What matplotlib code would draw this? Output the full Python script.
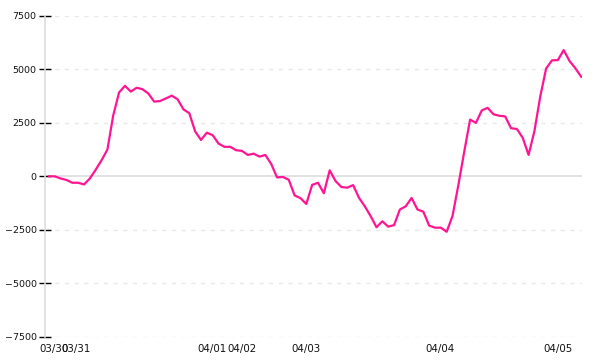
import matplotlib
matplotlib.use("Agg")
import matplotlib.pyplot as plt
import numpy as np

# data values (one per sample, uniform spacing)
values = [
    0, 0, -100, -170, -300, -300, -380, -100, 310, 750,
    1250, 2850, 3920, 4230, 3960, 4140, 4070, 3870, 3490, 3520,
    3640, 3770, 3600, 3130, 2950, 2100, 1700, 2040, 1920, 1530,
    1380, 1380, 1220, 1190, 1000, 1060, 920, 1000, 580, -50,
    -30, -160, -890, -1020, -1290, -400, -300, -790, 280, -220,
    -500, -530, -410, -1000, -1400, -1860, -2380, -2100, -2350, -2280,
    -1550, -1400, -1010, -1550, -1650, -2300, -2400, -2400, -2590, -1850,
    -400, 1150, 2650, 2500, 3080, 3200, 2900, 2830, 2800, 2250,
    2210, 1800, 1000, 2120, 3740, 5040, 5420, 5430, 5900, 5390,
    5050, 4650,
]
tick_labels = ["03/30", "03/31", "04/01", "04/02", "04/03", "04/04", "04/05"]
tick_pos = [0.9, 4.6, 27.8, 33.0, 44.0, 66.9, 87.1]
y_ticks = [-7500, -5000, -2500, 0, 2500, 5000, 7500]

plt.rcParams['font.family'] = ['DejaVu Sans']

fig = plt.figure(figsize=(6, 3.6), dpi=100)
ax = fig.add_axes([0.075, 0.0644, 0.895, 0.8916])

x = np.arange(len(values))
ax.set_xlim(-0.667, 91.13)
ax.set_ylim(-7500, 7500)

for yv in y_ticks:
    if yv == 0:
        ax.axhline(yv, color='#dddddd', lw=1.2, zorder=1)
    else:
        ax.axhline(yv, color='#e8e8e8', lw=1.0, ls=(0, (3, 4)), zorder=1)

ax.plot(x, values, color='#ff1493', lw=1.6, zorder=3)

for s in ['top', 'right', 'bottom']:
    ax.spines[s].set_visible(False)
ax.spines['left'].set_color('#dddddd')
ax.spines['left'].set_linewidth(1.2)

ax.set_yticks(y_ticks)
ax.set_yticklabels([str(v).replace('-', '\u2212') for v in y_ticks])
ax.tick_params(axis='y', direction='inout', length=8, width=1, color='black',
               labelsize=6.8, pad=2, labelcolor='#111111')
ax.set_xticks(tick_pos)
ax.set_xticklabels(tick_labels)
ax.tick_params(axis='x', length=0, labelsize=7.4, pad=5, labelcolor='#111111')

fig.savefig('out.png', dpi=100)
